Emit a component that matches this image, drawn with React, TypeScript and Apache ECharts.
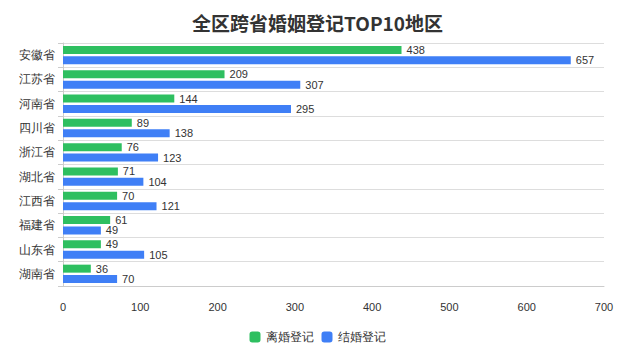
import React, { useEffect, useRef } from "react";
import * as echarts from "echarts";

const categories = ["安徽省", "江苏省", "河南省", "四川省", "浙江省", "湖北省", "江西省", "福建省", "山东省", "湖南省"];
const divorceValues = [438, 209, 144, 89, 76, 71, 70, 61, 49, 36];
const marriageValues = [657, 307, 295, 138, 123, 104, 121, 49, 105, 70];
const seriesNames = ["离婚登记", "结婚登记"];

export default function App() {
  const ref = useRef<HTMLDivElement>(null);
  useEffect(() => {
    const chart = echarts.init(ref.current!, null, { renderer: "svg" });
    chart.setOption({
      animation: false,
      title: {
        text: "全区跨省婚姻登记TOP10地区",
        left: "center",
        top: 0,
        textStyle: { fontSize: 19, fontWeight: "bold", color: "#333", fontFamily: "Noto Sans CJK SC" },
      },
      legend: {
        bottom: 2,
        icon: "roundRect",
        itemWidth: 11,
        itemHeight: 11,
        itemGap: 8,
        textStyle: { fontSize: 12, color: "#333" },
        data: seriesNames,
      },
      grid: { left: 55, right: 23, top: 35, bottom: 64, containLabel: false },
      xAxis: {
        type: "value",
        min: 0,
        max: 700,
        interval: 100,
        axisLine: { show: true, lineStyle: { color: "#ccc" } },
        axisTick: { show: false },
        splitLine: { show: false },
        axisLabel: { color: "#333", fontSize: 11, margin: 15 },
      },
      yAxis: {
        type: "category",
        inverse: true,
        data: categories,
        axisLine: { show: true, lineStyle: { color: "#ccc" } },
        axisTick: { show: true, length: 5, lineStyle: { color: "#ccc" } },
        splitLine: { show: true, lineStyle: { color: "#ddd" } },
        axisLabel: { color: "#333", fontSize: 12, margin: 8 },
      },
      series: [
        {
          name: seriesNames[0],
          type: "bar",
          data: divorceValues,
          barWidth: 8,
          barGap: "30%",
          itemStyle: { color: "#2ebf60" },
          label: { show: true, position: "right", color: "#333", fontSize: 11, distance: 5 },
        },
        {
          name: seriesNames[1],
          type: "bar",
          data: marriageValues,
          barWidth: 8,
          itemStyle: { color: "#3f7ff6" },
          label: { show: true, position: "right", color: "#333", fontSize: 11, distance: 5 },
        },
      ],
    });
    return () => chart.dispose();
  }, []);
  return <div ref={ref} style={{ width: 619, height: 342 }} />;
}
